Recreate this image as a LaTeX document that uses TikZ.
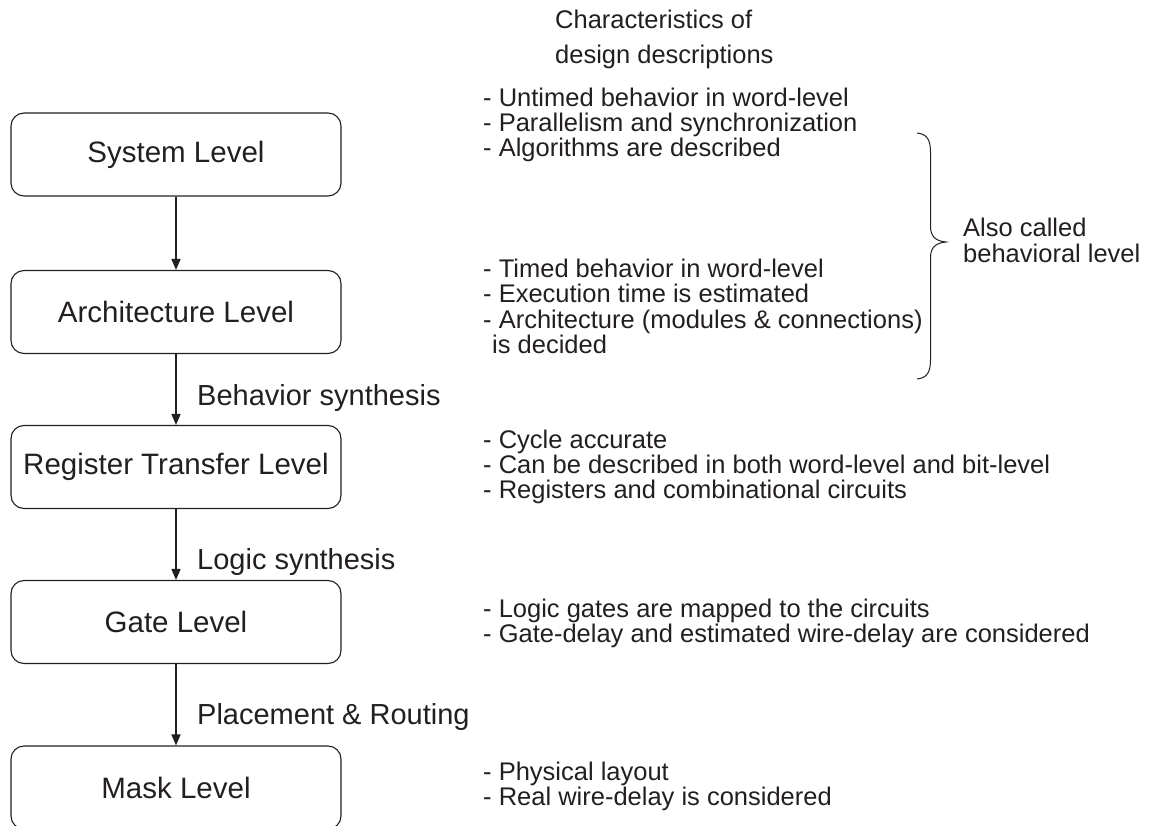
\documentclass[tikz,border=0pt]{standalone}
\usepackage{fontspec}
\setmainfont{Liberation Sans}
\usetikzlibrary{arrows.meta}
\definecolor{ink}{HTML}{231F20}
\begin{document}
\begin{tikzpicture}[x=1pt,y=-1pt,
  lvl/.style={draw=ink, line width=1.1pt, rounded corners=13pt,
    minimum width=330pt, minimum height=83pt, inner sep=0pt,
    font=\fontsize{29.5}{31}\selectfont, text=ink},
  flow/.style={draw=ink, line width=1.5pt, -{Triangle[length=11pt,width=9pt]}},
  note/.style={anchor=base west, inner sep=0pt,
    font=\fontsize{25.5}{26}\selectfont, text=ink},
  synth/.style={anchor=base west, inner sep=0pt,
    font=\fontsize{29}{31}\selectfont, text=ink},
  brace/.style={draw=ink, line width=1pt}
]
\useasboundingbox (0,0) rectangle (1151,826);

% design levels
\node[lvl] (sys)  at (176,154.5) {System Level};
\node[lvl] (arch) at (176,312)   {Architecture Level};
\node[lvl] (rtl)  at (176,467)   {Register Transfer Level};
\node[lvl] (gate) at (176,622)   {Gate Level};
\node[lvl] (mask) at (176,787.5) {Mask Level};

% refinement steps
\draw[flow] (sys.south)  -- (arch.north);
\draw[flow] (arch.south) -- (rtl.north);
\draw[flow] (rtl.south)  -- (gate.north);
\draw[flow] (gate.south) -- (mask.north);

\node[synth] (bsyn) at (197,405) {Behavior synthesis};
\node[synth] (lsyn) at (197,569) {Logic synthesis};
\node[synth] (pr)   at (197,724) {Placement \& Routing};

% column heading
\node[note] (h1) at (555,29) {Characteristics of};
\node[note] (h2) at (555,64) {design descriptions};

% characteristics of each level
\node[note] (s1) at (483,107) {- Untimed behavior in word-level};
\node[note] (s2) at (483,132) {- Parallelism and synchronization};
\node[note] (s3) at (483,157) {- Algorithms are described};

\node[note] (a1) at (483,278) {- Timed behavior in word-level};
\node[note] (a2) at (483,303) {- Execution time is estimated};
\node[note] (a3) at (483,328) {- Architecture (modules \& connections)};
\node[note] (a4) at (492,353) {is decided};

\node[note] (r1) at (483,448) {- Cycle accurate};
\node[note] (r2) at (483,473) {- Can be described in both word-level and bit-level};
\node[note] (r3) at (483,498) {- Registers and combinational circuits};

\node[note] (g1) at (483,617) {- Logic gates are mapped to the circuits};
\node[note] (g2) at (483,642) {- Gate-delay and estimated wire-delay are considered};

\node[note] (m1) at (483,780) {- Physical layout};
\node[note] (m2) at (483,805) {- Real wire-delay is considered};

% behavioral levels brace
\coordinate (btop) at (917,133);
\coordinate (btip) at (946,242);
\coordinate (bbot) at (917,379);
\draw[brace] (btop) .. controls (927,134) and (930.5,140) .. (930.5,152)
  -- (930.5,226) .. controls (930.5,236) and (935,241) .. (btip)
  .. controls (935,243) and (930.5,248) .. (930.5,258)
  -- (930.5,360) .. controls (930.5,372) and (927,378) .. (bbot);

\node[note] (ac1) at (963,237) {Also called};
\node[note] (ac2) at (963,263) {behavioral level};
\end{tikzpicture}
\end{document}
